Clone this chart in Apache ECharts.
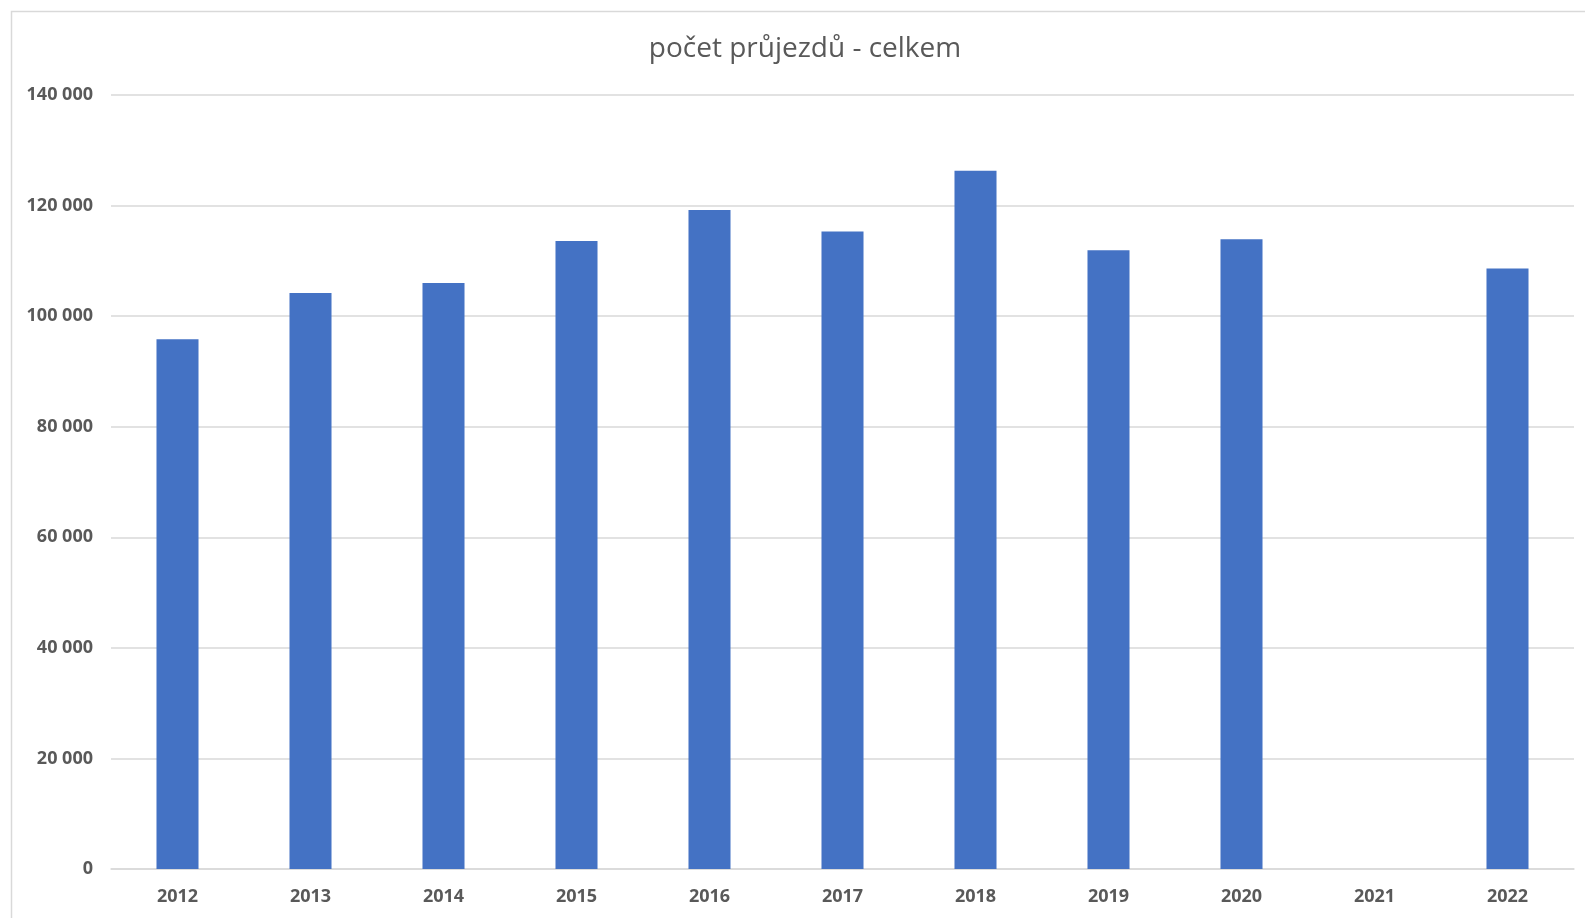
<!DOCTYPE html>
<html>
<head>
<meta charset="utf-8">
<script src="https://cdn.jsdelivr.net/npm/echarts@6/dist/echarts.min.js"></script>
<style>
html,body{margin:0;padding:0;background:#fff;}
#chart{width:1585px;height:918px;}
</style>
</head>
<body>
<div id="chart"></div>
<script>
const title = 'počet průjezdů - celkem';
const categories = ['2012','2013','2014','2015','2016','2017','2018','2019','2020','2021','2022'];
const values = [95800, 104200, 106000, 113600, 119200, 115300, 126300, 111900, 113900, null, 108600];
const yTicks = [0, 20000, 40000, 60000, 80000, 100000, 120000, 140000];

const chart = echarts.init(document.getElementById('chart'));
const fmt = v => String(v).replace(/\B(?=(\d{3})+(?!\d))/g, ' ');
chart.setOption({
  animation: false,
  backgroundColor: '#fff',
  graphic: [{
    type: 'rect', left: 9, top: 9,
    shape: { width: 1600, height: 930 },
    style: { fill: 'none', stroke: '#d9d9d9', lineWidth: 1.5 }
  }],
  title: {
    text: title, left: 800, textAlign: 'center', top: 30,
    textStyle: { fontFamily: 'Open Sans', fontSize: 28, fontWeight: 'normal', color: '#595959' }
  },
  grid: { left: 111, right: 11, top: 95, bottom: 49, containLabel: false },
  xAxis: {
    type: 'category', data: categories,
    axisLine: { lineStyle: { color: '#d9d9d9', width: 1.5 } },
    axisTick: { show: false },
    axisLabel: { margin: 19, fontFamily: 'Open Sans', fontSize: 18, fontWeight: 'bold', color: '#595959' }
  },
  yAxis: {
    type: 'value', min: yTicks[0], max: yTicks[yTicks.length - 1], interval: 20000,
    axisLine: { show: false }, axisTick: { show: false },
    splitLine: { lineStyle: { color: '#d9d9d9', width: 1.5 } },
    axisLabel: { margin: 18, formatter: fmt, fontFamily: 'Open Sans', fontSize: 18, fontWeight: 'bold', color: '#595959' }
  },
  series: [{
    type: 'bar', data: values, barWidth: '31.6%',
    itemStyle: { color: '#4472C4' }
  }]
});
</script>
</body>
</html>
